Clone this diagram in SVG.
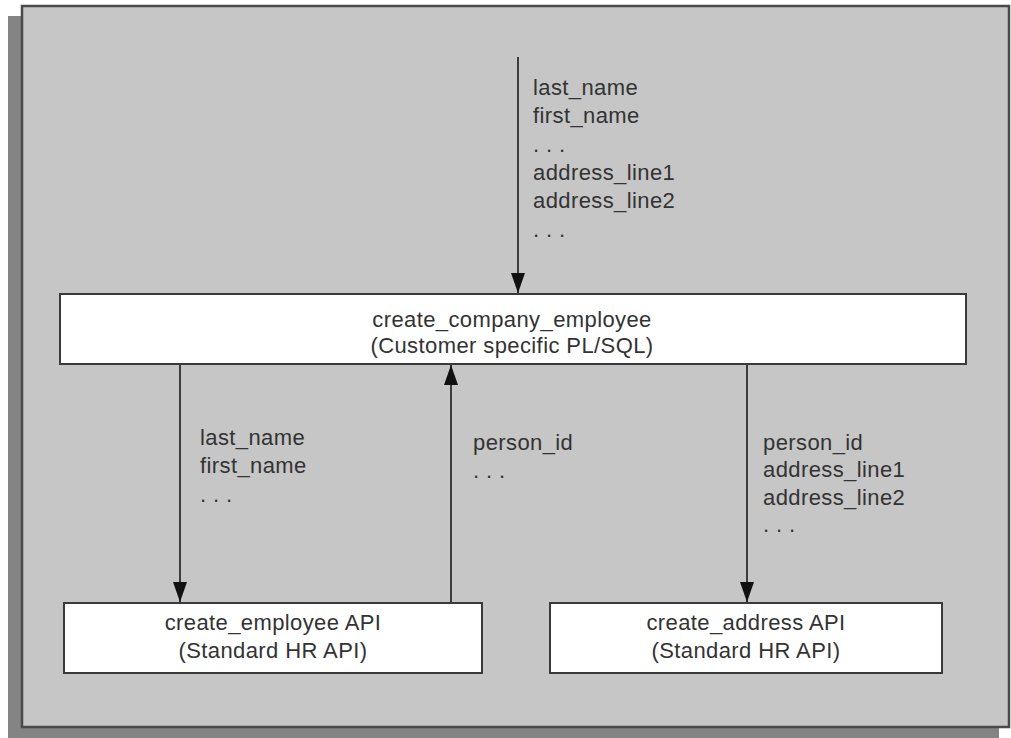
<svg xmlns="http://www.w3.org/2000/svg" width="1011" height="738" viewBox="0 0 1011 738">
<style>
  text { font-family: "Liberation Sans", Arial, sans-serif; font-size: 22px; fill: #333333; letter-spacing: 0.4px; }
  .c { text-anchor: middle; }
  .box { fill: #ffffff; stroke: #3a3a3a; stroke-width: 2; }
  .conn { stroke: #1a1a1a; stroke-width: 1.6; fill: none; marker-end: url(#arr); }
</style>
<defs>
  <marker id="arr" markerUnits="userSpaceOnUse" markerWidth="20" markerHeight="14" refX="20" refY="7" orient="auto" viewBox="0 0 20 14">
    <path d="M0,0 L20,7 L0,14 Z" fill="#111111"/>
  </marker>
</defs>
<rect x="0" y="0" width="1011" height="738" fill="#ffffff"/>
<rect id="shadow" x="8" y="16" width="991" height="722" fill="#848484"/>
<rect id="frame" x="22" y="6" width="987" height="721" fill="#c6c6c6" stroke="#4a4a4a" stroke-width="2.5"/>

<g id="connectors">
  <line class="conn" x1="518" y1="57" x2="518" y2="293"/>
  <line class="conn" x1="180" y1="364" x2="180" y2="602"/>
  <line class="conn" x1="451" y1="603" x2="451" y2="365"/>
  <line class="conn" x1="747" y1="364" x2="747" y2="602"/>
</g>

<g id="labels">
  <text x="533" y="95">last_name</text>
  <text x="533" y="123">first_name</text>
  <text x="533" y="152">. . .</text>
  <text x="533" y="180">address_line1</text>
  <text x="533" y="208">address_line2</text>
  <text x="533" y="237">. . .</text>

  <text x="200" y="445">last_name</text>
  <text x="200" y="473">first_name</text>
  <text x="200" y="502">. . .</text>

  <text x="473" y="450">person_id</text>
  <text x="473" y="478">. . .</text>

  <text x="763" y="450">person_id</text>
  <text x="763" y="477">address_line1</text>
  <text x="763" y="505">address_line2</text>
  <text x="763" y="532">. . .</text>
</g>

<g id="create_company_employee">
  <rect class="box" x="60" y="294" width="906" height="70"/>
  <text class="c" x="512" y="327">create_company_employee</text>
  <text class="c" x="512" y="353">(Customer specific PL/SQL)</text>
</g>

<g id="create_employee_api">
  <rect class="box" x="64" y="603" width="418" height="70"/>
  <text class="c" x="273" y="630">create_employee API</text>
  <text class="c" x="273" y="658">(Standard HR API)</text>
</g>

<g id="create_address_api">
  <rect class="box" x="550" y="603" width="392" height="70"/>
  <text class="c" x="746" y="630">create_address API</text>
  <text class="c" x="746" y="658">(Standard HR API)</text>
</g>
</svg>
